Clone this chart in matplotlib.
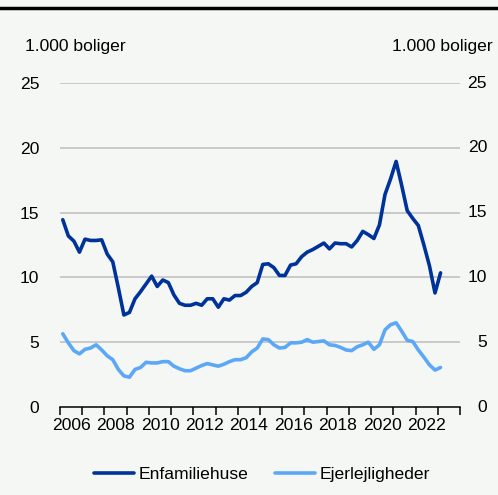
import matplotlib
matplotlib.use("Agg")
import matplotlib.pyplot as plt
import matplotlib.transforms as mtransforms
import numpy as np

plt.rcParams['font.family'] = ['Liberation Sans', 'DejaVu Sans']

start_year = 2006
enfamiliehuse = [
    14.45, 13.2, 12.8, 11.95,   # 2006
    12.95, 12.85, 12.85, 12.9,  # 2007
    11.8, 11.2, 9.2, 7.1,       # 2008
    7.3, 8.35, 8.9, 9.5,        # 2009
    10.1, 9.3, 9.8, 9.6,        # 2010
    8.65, 8.0, 7.85, 7.85,      # 2011
    8.0, 7.85, 8.35, 8.35,      # 2012
    7.7, 8.35, 8.25, 8.6,       # 2013
    8.6, 8.85, 9.3, 9.6,        # 2014
    11.0, 11.05, 10.75, 10.15,  # 2015
    10.15, 10.95, 11.05, 11.6,  # 2016
    11.95, 12.15, 12.4, 12.65,  # 2017
    12.2, 12.65, 12.6, 12.6,    # 2018
    12.35, 12.85, 13.55, 13.3,  # 2019
    13.0, 14.05, 16.4, 17.6,    # 2020
    18.95, 17.1, 15.15, 14.55,  # 2021
    14.0, 12.5, 10.9, 8.8,      # 2022
    10.35,                      # 2023
]
ejerlejligheder = [
    5.65, 4.95, 4.35, 4.1,      # 2006
    4.45, 4.55, 4.8, 4.4,       # 2007
    3.95, 3.65, 2.9, 2.4,       # 2008
    2.3, 2.9, 3.05, 3.45,       # 2009
    3.4, 3.4, 3.5, 3.5,         # 2010
    3.15, 2.95, 2.8, 2.8,       # 2011
    3.0, 3.2, 3.35, 3.25,       # 2012
    3.15, 3.3, 3.5, 3.65,       # 2013
    3.65, 3.8, 4.25, 4.55,      # 2014
    5.25, 5.2, 4.8, 4.55,       # 2015
    4.6, 4.95, 4.95, 5.0,       # 2016
    5.2, 5.0, 5.05, 5.1,        # 2017
    4.8, 4.75, 4.6, 4.4,        # 2018
    4.35, 4.65, 4.8, 5.0,       # 2019
    4.45, 4.8, 5.95, 6.35,      # 2020
    6.5, 5.85, 5.15, 5.05,      # 2021
    4.4, 3.85, 3.25, 2.85,      # 2022
    3.05,                       # 2023
]
year_labels = ['2006', '2008', '2010', '2012', '2014', '2016', '2018', '2020', '2022']
y_ticks = [0, 5, 10, 15, 20, 25]

bg = '#f5f7f5'
dark = '#003399'
light = '#5ca8f7'
fs = 12.6

n = len(enfamiliehuse)
t = start_year + (np.arange(n) + 0.5) / 4.0

fig = plt.figure(figsize=(4.98, 4.95), dpi=100, facecolor=bg)
ax = fig.add_axes([60/498, 1-407/495, 400/498, 324/495], facecolor=bg)

for yv in y_ticks[1:]:
    ax.axhline(yv, color='#bdbdbd', lw=1.1, zorder=1)

ax.plot(t, enfamiliehuse, color=dark, lw=2.6, label='Enfamiliehuse', zorder=3,
        solid_joinstyle='round', solid_capstyle='round')
ax.plot(t, ejerlejligheder, color=light, lw=2.6, label='Ejerlejligheder', zorder=3,
        solid_joinstyle='round', solid_capstyle='round')

ax.set_xlim(2006, 2024)
ax.set_ylim(0, 25)
ax.set_yticks(y_ticks)
ax.set_yticklabels([str(v) for v in y_ticks])
ax.set_xticks(np.arange(2006, 2025, 1))
ax.set_xticklabels([])
ax.set_xticks([int(l) + 0.5 for l in year_labels], minor=True)
ax.set_xticklabels(year_labels, minor=True)
ax.tick_params(axis='x', which='major', length=6, width=1.1, direction='out', color='black')
ax.tick_params(axis='x', which='minor', length=0, pad=8, labelsize=fs)
ax.tick_params(axis='y', which='both', length=0, labelsize=fs, pad=15,
               labelleft=True, labelright=False)

# right-hand tick labels, right-aligned near the figure edge
trans = mtransforms.blended_transform_factory(fig.transFigure, ax.transData)
for yv in y_ticks:
    ax.text(487/498, yv, str(yv), transform=trans, ha='right', va='center',
            fontsize=fs, clip_on=False)

for s in ['top', 'left', 'right']:
    ax.spines[s].set_visible(False)
ax.spines['bottom'].set_linewidth(1.1)
ax.spines['bottom'].set_zorder(4)

fig.text(25/498, 1-47/495, '1.000 boliger', fontsize=fs, ha='left', va='center')
fig.text(493/498, 1-47/495, '1.000 boliger', fontsize=fs, ha='right', va='center')

# top bar
fig.add_artist(plt.Line2D([0, 1], [1-8/495, 1-8/495], color='black', lw=2.5,
                          transform=fig.transFigure))

fig.legend(loc='center', bbox_to_anchor=(262/498, 1-474/495), ncol=2, frameon=False,
           fontsize=fs, handlelength=2.3, handletextpad=0.25, columnspacing=1.5)

fig.savefig('out.png', dpi=100, facecolor=bg)
